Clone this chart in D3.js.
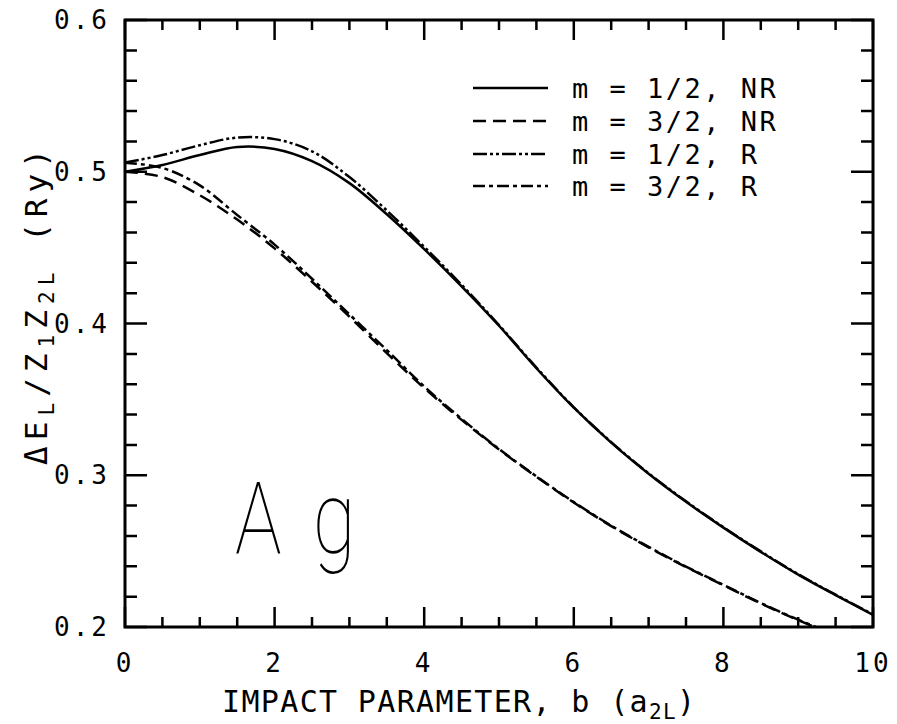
<!DOCTYPE html>
<html>
<head>
<meta charset="utf-8">
<script src="https://cdn.jsdelivr.net/npm/d3@7"></script>
<style>
  body { margin: 0; background: #fff; }
  text { font-family: "DejaVu Sans Mono", monospace; fill: #000; }
</style>
</head>
<body>
<div id="root"></div>
<script>
// impact parameter b (a_2L)
const bValues = [0, 0.5, 1, 1.5, 2, 2.5, 3, 3.5, 4, 4.5, 5, 5.5, 6, 6.5, 7, 7.5, 8, 8.5, 9, 9.5, 10];
// dE_L / Z1 Z2L (Ry)
const m12NR = [0.500, 0.5045, 0.511, 0.5163, 0.5150, 0.507, 0.4925, 0.472, 0.449, 0.4245, 0.3985, 0.3705, 0.3445, 0.3215, 0.301, 0.2825, 0.2655, 0.2495, 0.2345, 0.221, 0.208];
const m32NR = [0.500, 0.4965, 0.4845, 0.4685, 0.4495, 0.4275, 0.4045, 0.3805, 0.3575, 0.3365, 0.317, 0.299, 0.282, 0.2665, 0.2525, 0.2395, 0.2275, 0.2155, 0.2045, 0.1945, 0.185];
const m12R = [0.506, 0.511, 0.5175, 0.5225, 0.5215, 0.5135, 0.4965, 0.4745, 0.4505, 0.4255, 0.399, 0.371, 0.3448, 0.3218, 0.3013, 0.2828, 0.2658, 0.2498, 0.2348, 0.2213, 0.2083];
const m32R = [0.506, 0.5025, 0.491, 0.4715, 0.452, 0.4295, 0.406, 0.3825, 0.3585, 0.3372, 0.3173, 0.2993, 0.2823, 0.2668, 0.2528, 0.2398, 0.2278, 0.2158, 0.2048, 0.1948, 0.1853];

const seriesLabels = ["m = 1/2, NR", "m = 3/2, NR", "m = 1/2, R", "m = 3/2, R"];
const seriesValues = [m12NR, m32NR, m12R, m32R];
const seriesDash = [null, "13,7", "14,3,3,3,3,3", "12,4,4,4"];

const xMajor = [0, 2, 4, 6, 8, 10];
const yMajor = [0.2, 0.3, 0.4, 0.5, 0.6];

const w = 897;
const h = 724;
const pLeft = 125, pRight = 873, pTop = 20, pBottom = 627;

const svg = d3.select("#root")
    .append("svg")
    .attr("width", w)
    .attr("height", h);

const x = d3.scaleLinear().domain([0, 10]).range([pLeft, pRight]);
const y = d3.scaleLinear().domain([0.2, 0.6]).range([pBottom, pTop]);

const xMinor = d3.range(0, 10.01, 0.5).filter(v => xMajor.indexOf(v) < 0);
const yMinor = d3.range(0.2, 0.601, 0.02).map(v => +v.toFixed(2))
    .filter(v => yMajor.indexOf(v) < 0);

// ticks first, as one path of short segments
const xTickData = xMinor.map(v => [v, 10]).concat(xMajor.map(v => [v, 20]));
const yTickData = yMinor.map(v => [v, 12]).concat(yMajor.map(v => [v, 22]));
let tickD = "";
xTickData.forEach(([v, len]) => {
    const px = Math.round(x(v) * 10) / 10;
    tickD += "M" + px + " " + pBottom + "V" + (pBottom - len);
    tickD += "M" + px + " " + pTop + "V" + (pTop + len);
});
yTickData.forEach(([v, len]) => {
    const py = Math.round(y(v) * 10) / 10;
    tickD += "M" + pLeft + " " + py + "H" + (pLeft + len);
    tickD += "M" + pRight + " " + py + "H" + (pRight - len);
});
svg.append("path")
    .attr("d", tickD)
    .attr("fill", "none")
    .attr("stroke", "black")
    .attr("stroke-width", 2.5);

svg.append("rect")
    .attr("x", pLeft).attr("y", pTop)
    .attr("width", pRight - pLeft).attr("height", pBottom - pTop)
    .attr("fill", "none").attr("stroke", "#000").attr("stroke-width", 3);

// tick labels
svg.selectAll(".xl").data(xMajor).enter().append("text")
    .attr("x", d => x(d))
    .attr("y", 672)
    .attr("text-anchor", "middle")
    .attr("font-size", 26)
    .attr("letter-spacing", 3)
    .text(d => d);

svg.selectAll(".yl").data(yMajor).enter().append("text")
    .attr("x", 110)
    .attr("y", d => y(d) + 9)
    .attr("text-anchor", "end")
    .attr("font-size", 26)
    .attr("letter-spacing", 3)
    .text(d => d.toFixed(1));

// axis titles
const xt = svg.append("text")
    .attr("x", 222).attr("y", 712)
    .attr("font-size", 30)
    .attr("textLength", 473)
    .attr("lengthAdjust", "spacing");
xt.append("tspan").text("IMPACT PARAMETER, b (a");
xt.append("tspan").attr("font-size", 21).attr("dy", 7).text("2L");
xt.append("tspan").attr("dy", -7).text(")");

const yt = svg.append("text")
    .attr("transform", "translate(47,465) rotate(-90)")
    .attr("font-size", 31)
    .attr("textLength", 316)
    .attr("lengthAdjust", "spacing");
yt.append("tspan").text("ΔE");
yt.append("tspan").attr("font-size", 21).attr("dy", 7).text("L");
yt.append("tspan").attr("dy", -7).text("/Z");
yt.append("tspan").attr("font-size", 21).attr("dy", 7).text("1");
yt.append("tspan").attr("dy", -7).text("Z");
yt.append("tspan").attr("font-size", 21).attr("dy", 7).text("2L");
yt.append("tspan").attr("dy", -7).text("  (Ry)");

// element label
svg.append("text")
    .attr("transform", "translate(235,553) scale(0.78,1)")
    .style("font-family", "Roboto, 'DejaVu Sans'")
    .style("font-weight", 100)
    .attr("font-size", 100)
    .attr("letter-spacing", 40)
    .text("Ag");

// curves
svg.append("clipPath").attr("id", "plotclip")
    .append("rect")
    .attr("x", pLeft).attr("y", pTop)
    .attr("width", pRight - pLeft).attr("height", pBottom - pTop);

const line = d3.line()
    .x((d, i) => x(bValues[i]))
    .y(d => y(d))
    .curve(d3.curveCatmullRom.alpha(0.5));

seriesValues.forEach((vals, k) => {
    svg.append("path")
        .attr("clip-path", "url(#plotclip)")
        .attr("d", line(vals))
        .attr("fill", "none")
        .attr("stroke", "#000")
        .attr("stroke-width", 2.5)
        .attr("stroke-dasharray", seriesDash[k]);
});

// legend
const legendY = [88, 121, 154, 186];
const legend = svg.append("g");
seriesLabels.forEach((lab, k) => {
    legend.append("line")
        .attr("x1", 473).attr("x2", 548)
        .attr("y1", legendY[k]).attr("y2", legendY[k])
        .attr("stroke", "#000")
        .attr("stroke-width", 2.5)
        .attr("stroke-dasharray", seriesDash[k]);
    legend.append("text")
        .attr("x", 572)
        .attr("y", legendY[k] + 10)
        .attr("font-size", 27)
        .attr("letter-spacing", 2.5)
        .attr("xml:space", "preserve")
        .text(lab);
});
</script>
</body>
</html>
